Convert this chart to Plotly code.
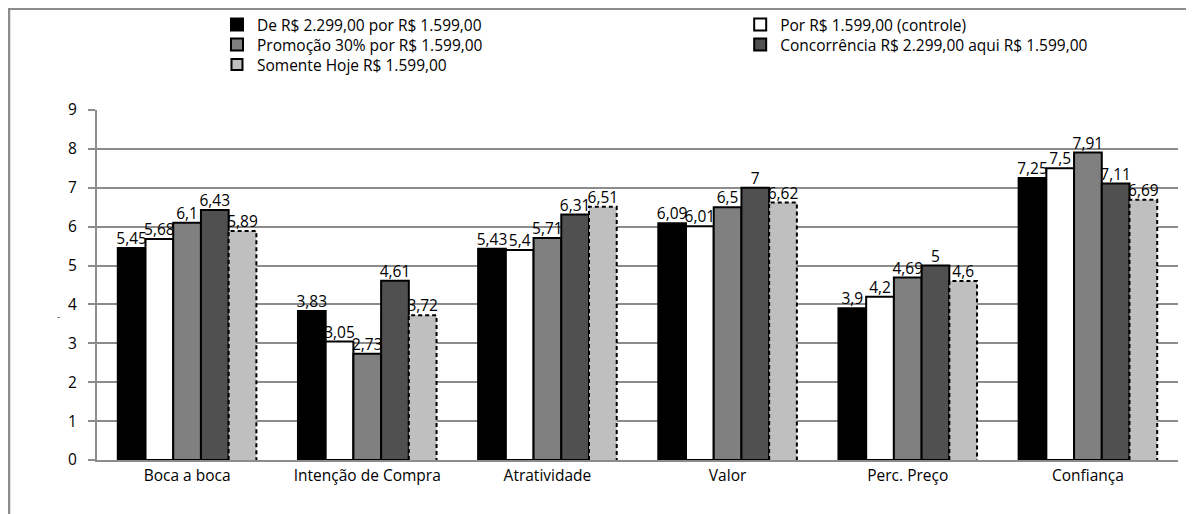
import plotly.graph_objects as go

categories = ["Boca a boca", "Intenção de Compra", "Atratividade", "Valor", "Perc. Preço", "Confiança"]
series_names = [
    "De R$ 2.299,00 por R$ 1.599,00",
    "Por R$ 1.599,00 (controle)",
    "Promoção 30% por R$ 1.599,00",
    "Concorrência R$ 2.299,00 aqui R$ 1.599,00",
    "Somente Hoje R$ 1.599,00",
]
de_por = [5.45, 3.83, 5.43, 6.09, 3.9, 7.25]
controle = [5.68, 3.05, 5.4, 6.01, 4.2, 7.5]
promocao = [6.1, 2.73, 5.71, 6.5, 4.69, 7.91]
concorrencia = [6.43, 4.61, 6.31, 7.0, 5.0, 7.11]
somente_hoje = [5.89, 3.72, 6.51, 6.62, 4.6, 6.69]
y_ticks = [0, 1, 2, 3, 4, 5, 6, 7, 8, 9]

series_values = [de_por, controle, promocao, concorrencia, somente_hoje]
fills = ["#000000", "#ffffff", "#808080", "#505050", "#bfbfbf"]
legend_ids = ["legend", "legend2", "legend3", "legend4", "legend5"]

FONT = "Open Sans"
FS_AX = 15.5
FS_LBL = 15.5
FS_LEG = 15.5
GRID = "#8c8c8c"
n = len(series_values)
w = 1 / (n + 1.5)  # Excel gap width 150%

fig = go.Figure()
label_x, label_y, label_t = [], [], []
for k, (name, vals, col, lg) in enumerate(zip(series_names, series_values, fills, legend_ids)):
    xs = [i + (k - (n - 1) / 2) * w for i in range(len(categories))]
    dashed = (k == n - 1)
    fig.add_trace(go.Bar(
        x=xs, y=vals, width=w, name=name, legend=lg, showlegend=not dashed,
        marker=dict(color=col, line=dict(color=col if dashed else "#000000", width=0 if dashed else 2)),
        hoverinfo="skip",
    ))
    if dashed:
        ox, oy = [], []
        for x, v in zip(xs, vals):
            ox += [x - w / 2, x - w / 2, x + w / 2, x + w / 2, None]
            oy += [0, v, v, 0, None]
        fig.add_trace(go.Scatter(x=ox, y=oy, mode="lines", showlegend=False,
                                 line=dict(color="#000000", width=2, dash="4px,3px"),
                                 hoverinfo="skip"))
        # legend entry with border for this series
        fig.add_trace(go.Scatter(x=[None], y=[None], mode="markers", name=name, legend=lg,
                                 marker=dict(symbol="square", size=11, color=col,
                                             line=dict(color="#000000", width=2))))
    label_x += xs
    label_y += vals
    label_t += [f"{v:g}".replace(".", ",") for v in vals]

fig.add_trace(go.Scatter(x=label_x, y=label_y, text=label_t, mode="text",
                         textposition="top center", showlegend=False, cliponaxis=False,
                         textfont=dict(family=FONT, size=FS_LBL, color="#000000"), hoverinfo="skip"))

leg_common = dict(orientation="v", yanchor="top", xanchor="left",
                  font=dict(family=FONT, size=FS_LEG, color="#000000"), tracegroupgap=0,
                  itemwidth=30, bgcolor="rgba(0,0,0,0)", borderwidth=0)
row_y = [1.2914, 1.2343, 1.1772]
col_x = [0.111, 0.595]

fig.update_layout(
    width=1194, height=514,
    margin=dict(l=89, r=24, t=102, b=62, autoexpand=False),
    paper_bgcolor="#ffffff", plot_bgcolor="#ffffff",
    barmode="overlay", showlegend=True,
    font=dict(family=FONT, size=FS_AX, color="#000000"),
    legend=dict(x=col_x[0], y=row_y[0], **leg_common),
    legend2=dict(x=col_x[1], y=row_y[0], **leg_common),
    legend3=dict(x=col_x[0], y=row_y[1], **leg_common),
    legend4=dict(x=col_x[1], y=row_y[1], **leg_common),
    legend5=dict(x=col_x[0], y=row_y[2], **leg_common),
    xaxis=dict(range=[-0.5, len(categories) - 0.5], tickvals=list(range(len(categories))),
               ticktext=categories, showgrid=False, zeroline=False, automargin=False,
               showline=True, linecolor=GRID, linewidth=2, ticks="",
               tickfont=dict(family=FONT, size=FS_AX)),
    yaxis=dict(range=[0, 9], tickvals=y_ticks, showgrid=True, gridcolor=GRID, gridwidth=2,
               zeroline=False, showline=True, linecolor=GRID, linewidth=2, automargin=False,
               ticks="outside", ticklen=7, tickcolor=GRID, tickwidth=2, ticklabelstandoff=8,
               tickfont=dict(family=FONT, size=FS_AX)),
    shapes=[dict(type="rect", xref="paper", yref="paper", x0=-0.0814, x1=1.03, y0=-0.2, y1=1.289,
                 line=dict(color=GRID, width=2.5), fillcolor="rgba(0,0,0,0)", layer="below")],
    annotations=[dict(text="-", xref="paper", yref="paper", x=-0.039, y=0.411, showarrow=False,
                      font=dict(family=FONT, size=10, color="#555555"))],
)

fig.write_html("out.html")
